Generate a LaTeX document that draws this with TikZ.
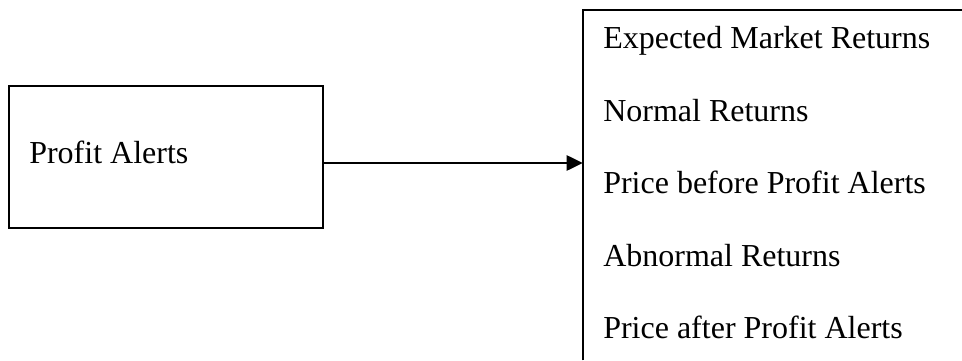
\documentclass[tikz,border=0pt]{standalone}
\usepackage{fontspec}
\setmainfont{Liberation Serif}
\usetikzlibrary{arrows.meta}
\tikzset{
  boxstyle/.style={draw=black, line width=1.6pt, rectangle, inner sep=0pt},
  openbox/.style={rectangle, inner sep=0pt},
  edge/.style={draw=black, line width=1.6pt, line join=miter},
  lbl/.style={inner sep=0pt, anchor=base west, font=\fontsize{24}{28}\selectfont},
  conn/.style={draw=black, line width=1.1pt, -{Triangle[length=12pt,width=11.5pt]}}
}
\begin{document}
\begin{tikzpicture}[x=0.75pt, y=-0.75pt]
\useasboundingbox (0,0) rectangle (962,360);
% left box: x 8.6..323, y 86..228
\node[boxstyle, minimum width=235.8pt, minimum height=106.5pt] (pa) at (165.8,157) {};
\node[lbl] (patext) at (29,163) {Profit Alerts};
% right box: x 583..(beyond right edge), y 10..(beyond bottom)
\node[openbox, minimum width=284.25pt, minimum height=262.5pt] (rb) at (772.5,185) {};
\draw[edge] (rb.south west) -- (rb.north west) -- (rb.north east);
\node[lbl] (r1) at (603,49) {Expected Market Returns};
\node[lbl] (r2) at (603,121) {Normal Returns};
\node[lbl] (r3) at (603,193) {Price before Profit Alerts};
\node[lbl] (r4) at (603,266) {Abnormal Returns};
\node[lbl] (r5) at (603,338) {Price after Profit Alerts};
\coordinate (ay) at (0,163);
\draw[conn] (pa.east |- ay) -- (rb.west |- ay);
\end{tikzpicture}
\end{document}
